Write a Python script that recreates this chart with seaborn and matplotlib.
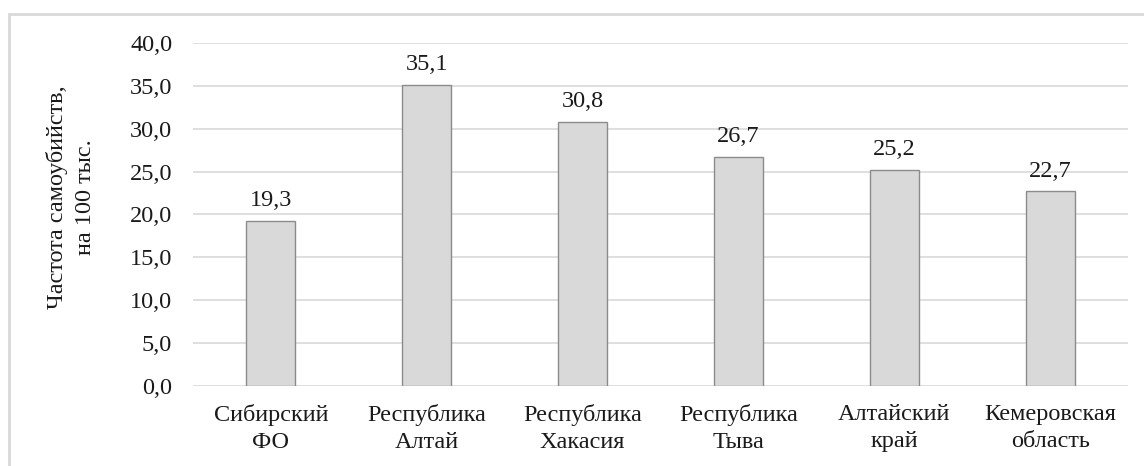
import matplotlib
matplotlib.use("Agg")
import matplotlib.pyplot as plt
import seaborn as sns
import pandas as pd
from matplotlib.patches import Rectangle

regions = ["Сибирский\nФО", "Республика\nАлтай", "Республика\nХакасия",
           "Республика\nТыва", "Алтайский\nкрай", "Кемеровская\nобласть"]
rates = [19.3, 35.1, 30.8, 26.7, 25.2, 22.7]
y_ticks = [0, 5, 10, 15, 20, 25, 30, 35, 40]

sns.set_theme(style="white")
plt.rcParams["font.family"] = ["Liberation Serif", "DejaVu Serif"]

df = pd.DataFrame({"region": regions, "rate": rates})

fig = plt.figure(figsize=(11.44, 4.66), dpi=100)
ax = fig.add_axes([0.1687, 0.1717, 0.8173, 0.736])

sns.barplot(data=df, x="region", y="rate", ax=ax, color="#d9d9d9",
            width=0.315, edgecolor="#8c8c8c", linewidth=1.0, saturation=1, zorder=3)

ax.set_ylim(0, 40)
ax.set_yticks(y_ticks)
ax.set_yticklabels([f"{v:.1f}".replace(".", ",") for v in y_ticks], fontsize=17.5, color="#1a1a1a")
ax.tick_params(axis="x", labelsize=17.5, colors="#1a1a1a", length=0, pad=13)
ax.tick_params(axis="y", length=0, pad=15)
for lbl in ax.get_xticklabels():
    lbl.set_linespacing(1.4)
ax.grid(axis="y", color="#d9d9d9", linewidth=1.2, zorder=0)
ax.set_axisbelow(True)
for s in ax.spines.values():
    s.set_visible(False)
ax.set_xlabel("")
ax.set_ylabel("Частота самоубийств,\nна 100 тыс.", fontsize=17.5, color="#1a1a1a",
              linespacing=1.4)
ax.yaxis.set_label_coords(-0.104, 0.551)

for i, v in enumerate(rates):
    ax.annotate(f"{v:.1f}".replace(".", ","), (i, v), xytext=(0, 7),
                textcoords="offset points", ha="center", va="bottom",
                fontsize=17.5, color="#1a1a1a")

fig.patches.append(Rectangle((9 / 1144, -0.1), 1.2, 1.1 - 14 / 466,
                             transform=fig.transFigure, fill=False,
                             edgecolor="#d9d9d9", linewidth=2, zorder=-1))

fig.savefig("out.png", dpi=100, facecolor="white")
